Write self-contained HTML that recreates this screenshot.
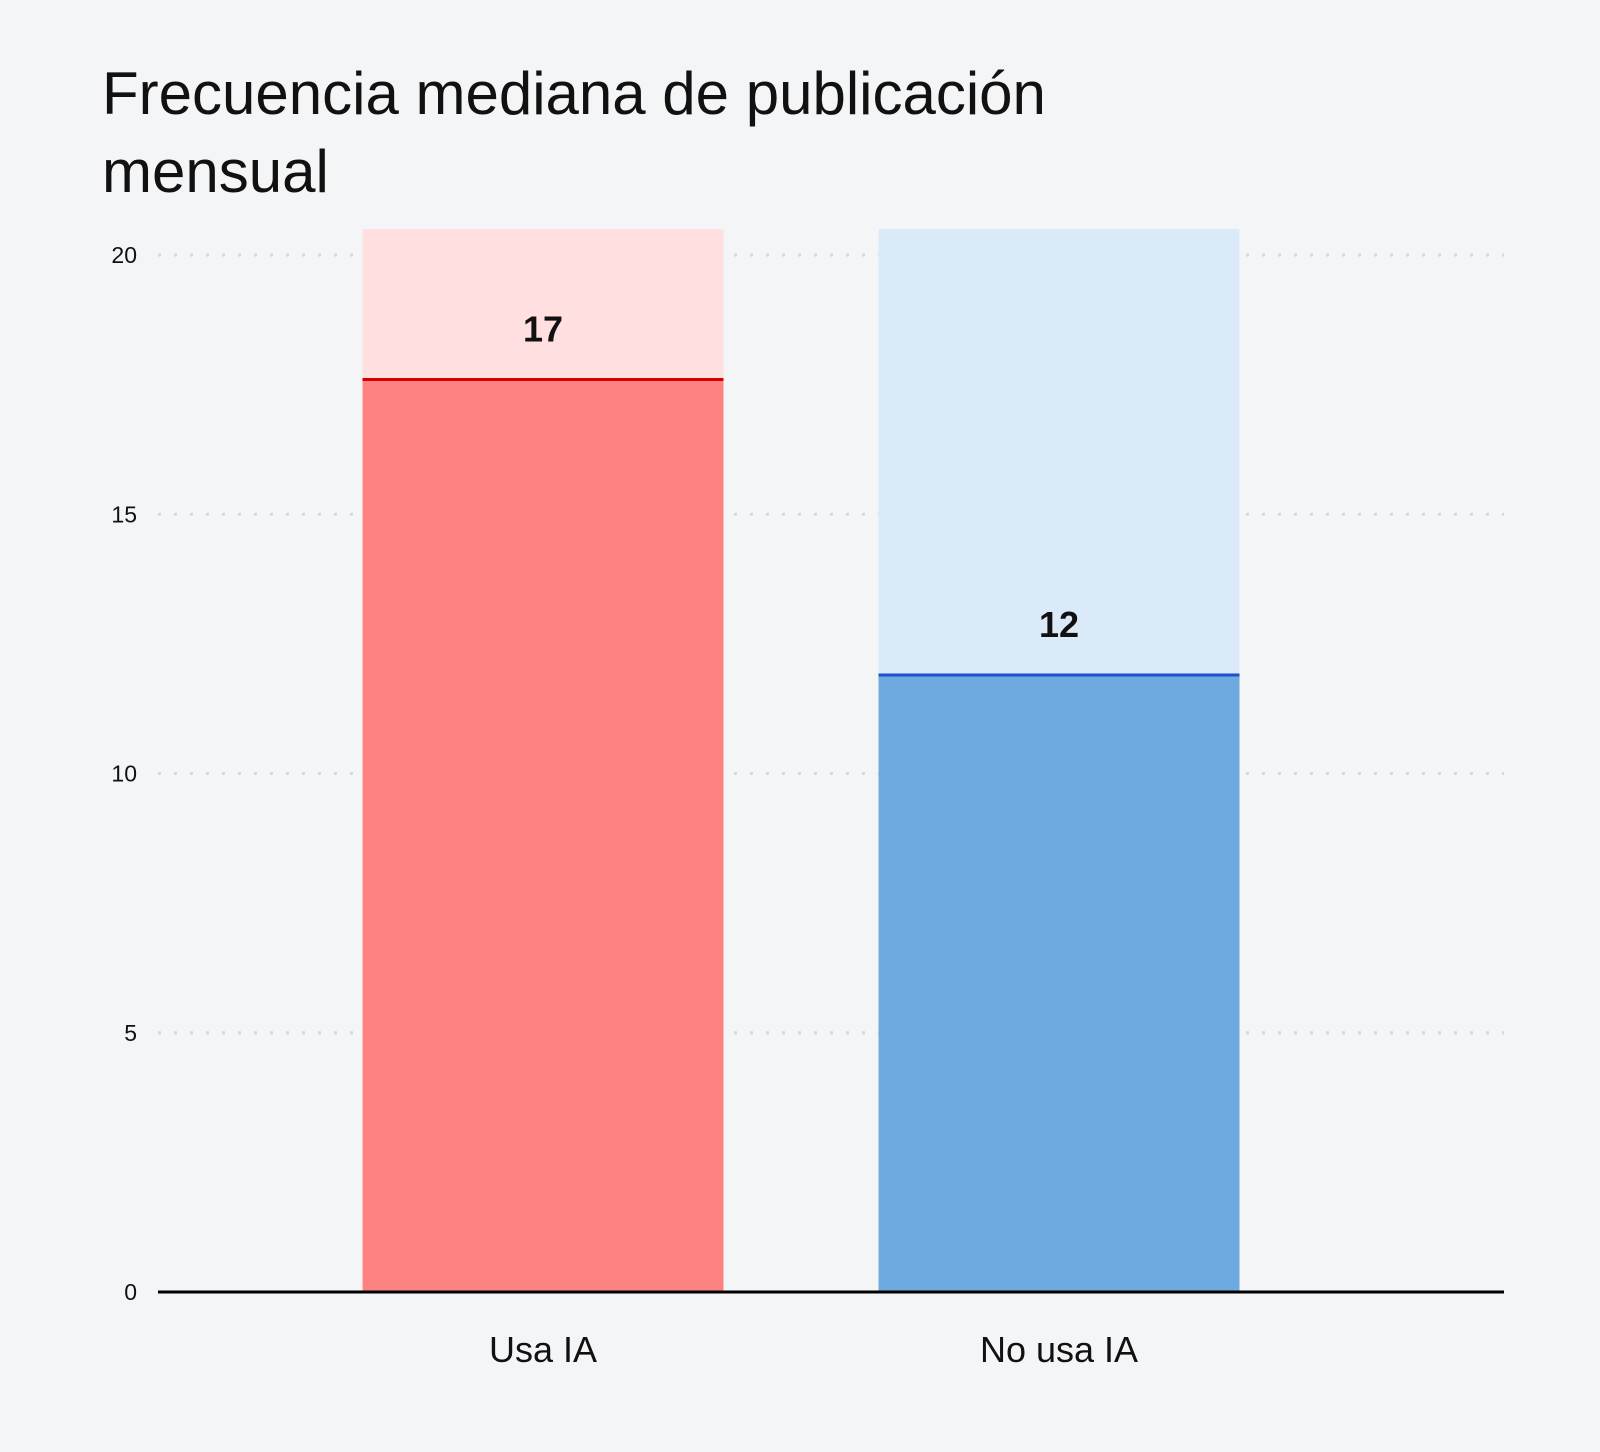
<!DOCTYPE html>
<html><head><meta charset="utf-8"><style>
body{margin:0;background:#f4f5f7;font-family:"Liberation Sans",sans-serif;}
svg{display:block}
</style></head><body>
<svg width="1600" height="1452">
<rect width="1600" height="1452" fill="#f4f5f7"/>
<text x="102" y="114" font-size="60" fill="#111">Frecuencia mediana de publicación</text>
<text x="102" y="192" font-size="60" fill="#111">mensual</text>
<g id="grid"></g><g id="bars"></g>
<line x1="158" x2="1504" y1="1292" y2="1292" stroke="#000" stroke-width="3"/>
</svg>
<script>
const categories=["Usa IA","No usa IA"];
const values=[17.6,11.9];
const valueLabels=["17","12"];
const ticks=[0,5,10,15,20];
const yMax=20.5;
const colors=[{bg:"#ffdfe0",fill:"#ff8282",line:"#d40000"},{bg:"#dbeaf8",fill:"#6daae0",line:"#1f4fd0"}];
const y0=1292,pxPer=51.85;
const y=v=>y0-v*pxPer;
const bandStart=158,band=673,barW=361;
const xc=i=>bandStart+band*(i+0.5)*1+ (i===0?-112:-154);
const NS="http://www.w3.org/2000/svg";
const g=document.getElementById("grid"),b=document.getElementById("bars");
function mk(tag,attrs,parent){const e=document.createElementNS(NS,tag);for(const k in attrs)e.setAttribute(k,attrs[k]);parent.appendChild(e);return e;}
ticks.forEach(t=>{
  if(t>0){const l=mk("line",{x1:158,x2:1504,y1:y(t),y2:y(t),stroke:"#d6d8da","stroke-width":3,"stroke-dasharray":"3 13"},g);
  
  }
  const tx=mk("text",{x:137,y:y(t)+8,"font-size":23,"text-anchor":"end",fill:"#111"},g);
  tx.textContent=t;
  
  
});
const centers=[543,1059];
categories.forEach((c,i)=>{
  const cx=centers[i],x=cx-barW/2,c2=colors[i];
  const bg=mk("rect",{x:x,y:y(yMax),width:barW,height:y(0)-y(yMax),fill:c2.bg},b);
  
  
  const r=mk("rect",{x:x,y:y(values[i]),width:barW,height:y(0)-y(values[i]),fill:c2.fill},b);
  
  
  const ln=mk("line",{x1:x,x2:x+barW,y1:y(values[i]),y2:y(values[i]),stroke:c2.line,"stroke-width":3},b);
  
  
  const vl=mk("text",{x:cx,y:y(values[i])-38,"font-size":36,"font-weight":"bold","text-anchor":"middle",fill:"#111"},b);
  vl.textContent=valueLabels[i];
  
  
  const cl=mk("text",{x:cx,y:1362,"font-size":36,"text-anchor":"middle",fill:"#111"},b);
  cl.textContent=c;
  
  
});
</script>
</body></html>
